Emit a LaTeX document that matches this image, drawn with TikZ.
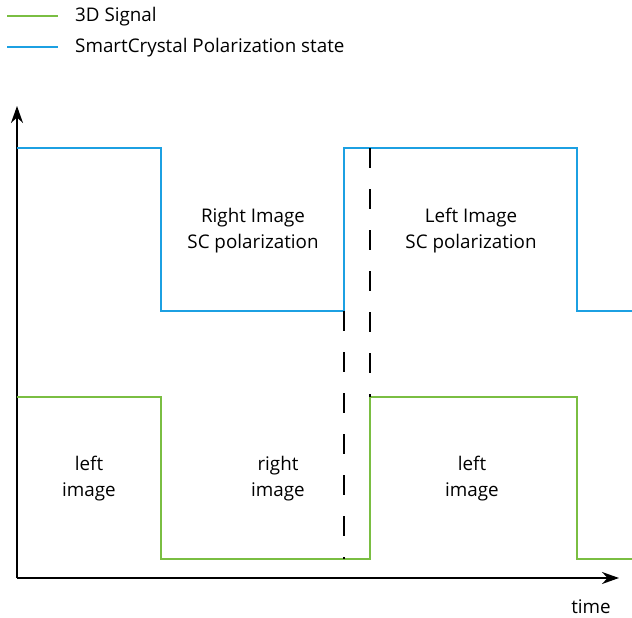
\documentclass[tikz,border=0pt]{standalone}
\usepackage{fontspec}
\setmainfont{Open Sans}
\usetikzlibrary{arrows.meta}
\definecolor{sigGreen}{RGB}{122,190,66}
\definecolor{scBlue}{RGB}{28,160,226}
\begin{document}
\begin{tikzpicture}[x=1pt,y=-1pt,
  every node/.style={font=\fontsize{18.8}{26}\selectfont, align=center, inner sep=0pt},
  greenline/.style={draw=sigGreen, line width=1.8pt},
  blueline/.style={draw=scBlue, line width=1.8pt},
  axis/.style={line width=1.8pt, -{Stealth[length=17pt,width=12pt]}},
  sync/.style={line width=1.8pt, dash pattern=on 20pt off 21pt}]
\useasboundingbox (0,0) rectangle (632,618);
% legend
\coordinate (Legend_Green_A) at (7,16);
\coordinate (Legend_Green_B) at (58,16);
\coordinate (Legend_Blue_A) at (7,47);
\coordinate (Legend_Blue_B) at (58,47);
\draw[greenline] (Legend_Green_A) -- (Legend_Green_B);
\draw[blueline] (Legend_Blue_A) -- (Legend_Blue_B);
\node[anchor=west] (Legend_3D_Signal) at (75,17) {3D Signal};
\node[anchor=west] (Legend_SC_State) at (75,48) {SmartCrystal Polarization state};
% axes
\coordinate (Origin) at (17,578);
\coordinate (Y_End) at (17,106);
\coordinate (X_End) at (619,578);
\draw[axis] (Origin) -- (Y_End);
\draw[axis] (Origin) -- (X_End);
\node (Time) at (591,607) {time};
% SmartCrystal polarization state
\draw[blueline] (17,148) -- (161,148) -- (161,311) -- (344,311) -- (344,148)
  -- (577,148) -- (577,311) -- (632,311);
% 3D signal
\draw[greenline] (17,397) -- (161,397) -- (161,559) -- (370,559) -- (370,397)
  -- (577,397) -- (577,559) -- (632,559);
% sync markers
\coordinate (Sync_One_Top) at (344,311);
\coordinate (Sync_One_Bottom) at (344,559);
\coordinate (Sync_Two_Top) at (370,148);
\coordinate (Sync_Two_Bottom) at (370,397);
\draw[sync] (Sync_One_Top) -- (Sync_One_Bottom);
\draw[sync] (Sync_Two_Top) -- (Sync_Two_Bottom);
% labels
\node (Right_Image_SC) at (253,231) {Right Image\\SC polarization};
\node (Left_Image_SC) at (471,231) {Left Image\\SC polarization};
\node (Left_Image_One) at (89,479) {left\\image};
\node (Right_Image) at (278,479) {right\\image};
\node (Left_Image_Two) at (472,479) {left\\image};
\end{tikzpicture}
\end{document}
